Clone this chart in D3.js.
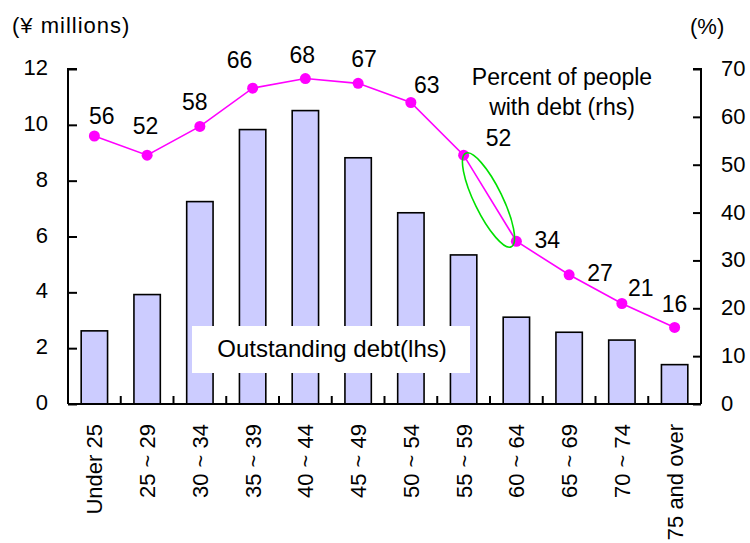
<!DOCTYPE html>
<html>
<head>
<meta charset="utf-8">
<script src="https://cdn.jsdelivr.net/npm/d3@7"></script>
<style>
  body { margin: 0; background: #fff; }
  text { font-family: "Liberation Sans", Arial, sans-serif; fill: #000; }
</style>
</head>
<body>
<script>
(function () {

    var ageGroups = ["Under 25", "25 ~ 29", "30 ~ 34", "35 ~ 39", "40 ~ 44", "45 ~ 49",
        "50 ~ 54", "55 ~ 59", "60 ~ 64", "65 ~ 69", "70 ~ 74", "75 and over"];
    //outstanding debt, yen millions (lhs)
    var debtValues = [2.62, 3.92, 7.25, 9.83, 10.51, 8.82, 6.85, 5.34, 3.11, 2.57, 2.29, 1.41];
    //percent of people with debt (rhs)
    var pctValues = [56, 52, 58, 66, 68, 67, 63, 52, 34, 27, 21, 16];
    var leftTicks = [0, 2, 4, 6, 8, 10, 12];
    var rightTicks = [0, 10, 20, 30, 40, 50, 60, 70];

    //hand placed label nudges (as in the original sheet)
    var labelDx = [7.5, -1.5, -5, -13, -3, 6, 16, 35, 31, 31, 19, 0];
    var labelDy = [-20, -29, -24, -28, -24, -24, -18, -17, -1, -2, -16, -23];

    var width = 750, height = 543;
    var left = 68, right = 701, top = 69, bottom = 404;

    var svg = d3.select("body").append("svg")
        .attr("width", width)
        .attr("height", height);

    var x = d3.scaleBand()
        .domain(ageGroups)
        .range([left, right])
        .paddingInner(0.5)
        .paddingOuter(0.25);

    var yL = d3.scaleLinear().domain([0, 12]).range([bottom, top]);
    var yR = d3.scaleLinear().domain([0, 70]).range([bottom, top]);

    //bars
    svg.selectAll(".bar")
        .data(debtValues)
        .enter()
        .append("rect")
        .attr("class", "bar")
        .attr("x", function (d, i) { return x(ageGroups[i]); })
        .attr("width", x.bandwidth())
        .attr("y", function (d) { return yL(d); })
        .attr("height", function (d) { return bottom - yL(d); })
        .style("fill", "#ccccff")
        .style("stroke", "#000")
        .style("stroke-width", 1.6);

    //legend box for bars
    svg.append("rect")
        .attr("x", 192).attr("y", 326)
        .attr("width", 278).attr("height", 47)
        .style("fill", "#fff");
    svg.append("text")
        .attr("x", 332).attr("y", 357)
        .attr("text-anchor", "middle")
        .style("font-size", "24px")
        .text("Outstanding debt(lhs)");

    //left axis
    var axisL = d3.axisRight(yL).tickValues(leftTicks).tickSize(9).tickFormat("");
    var gL = svg.append("g").attr("transform", "translate(" + left + ",0)").call(axisL);
    gL.select(".domain").attr("d", "M9," + top + "H0V" + bottom);
    svg.selectAll(".lLabel")
        .data(leftTicks)
        .enter()
        .append("text")
        .attr("x", 48)
        .attr("y", function (d) { return yL(d) + 6; })
        .attr("text-anchor", "end")
        .style("font-size", "22px")
        .text(function (d) { return d; });

    //right axis
    var axisR = d3.axisLeft(yR).tickValues(rightTicks).tickSize(8).tickFormat("");
    var gR = svg.append("g").attr("transform", "translate(" + right + ",0)").call(axisR);
    gR.select(".domain").attr("d", "M-8," + top + "H0V" + bottom);
    svg.selectAll(".rLabel")
        .data(rightTicks)
        .enter()
        .append("text")
        .attr("x", 721)
        .attr("y", function (d) { return yR(d) + 7; })
        .style("font-size", "22px")
        .text(function (d) { return d; });

    svg.selectAll(".domain, .tick line")
        .style("stroke", "#000")
        .style("stroke-width", 2);

    //x axis line with boundary ticks
    svg.append("line")
        .attr("x1", left).attr("x2", right)
        .attr("y1", bottom).attr("y2", bottom)
        .style("stroke", "#000").style("stroke-width", 2.2);
    svg.selectAll(".xTick")
        .data(ageGroups.slice(1))
        .enter()
        .append("line")
        .attr("x1", function (d) { return x(d) - x.bandwidth() / 2; })
        .attr("x2", function (d) { return x(d) - x.bandwidth() / 2; })
        .attr("y1", bottom).attr("y2", bottom - 8)
        .style("stroke", "#000").style("stroke-width", 2);

    //x labels, rotated
    svg.selectAll(".xLabel")
        .data(ageGroups)
        .enter()
        .append("text")
        .attr("transform", function (d) {
            return "translate(" + (x(d) + x.bandwidth() / 2 + 8) + ",424) rotate(-90)";
        })
        .attr("text-anchor", "end")
        .style("font-size", "22px")
        .text(function (d) { return d; });

    //line of percent with debt
    var cx = function (d, i) { return x(ageGroups[i]) + x.bandwidth() / 2; };
    var line = d3.line()
        .x(cx)
        .y(function (d) { return yR(d); });
    svg.append("path")
        .datum(pctValues)
        .attr("d", line)
        .style("fill", "none")
        .style("stroke", "#ff00ff")
        .style("stroke-width", 1.6);
    svg.selectAll(".dot")
        .data(pctValues)
        .enter()
        .append("circle")
        .attr("cx", cx)
        .attr("cy", function (d) { return yR(d); })
        .attr("r", 5.5)
        .style("fill", "#ff00ff");
    svg.selectAll(".pctLabel")
        .data(pctValues)
        .enter()
        .append("text")
        .attr("x", function (d, i) { return cx(d, i) + labelDx[i]; })
        .attr("y", function (d, i) { return yR(d) + labelDy[i] + 8; })
        .attr("text-anchor", "middle")
        .style("font-size", "23px")
        .text(function (d) { return d; });

    //highlight ellipse between 55-59 and 60-64
    svg.append("ellipse")
        .attr("transform", "translate(488.5,200) rotate(64)")
        .attr("rx", 52).attr("ry", 14)
        .style("fill", "none")
        .style("stroke", "#00e000")
        .style("stroke-width", 1.6);

    //annotations
    svg.append("text")
        .attr("x", 562).attr("y", 85)
        .attr("text-anchor", "middle")
        .style("font-size", "23px")
        .text("Percent of people");
    svg.append("text")
        .attr("x", 562).attr("y", 115)
        .attr("text-anchor", "middle")
        .style("font-size", "23px")
        .text("with debt (rhs)");

    svg.append("text")
        .attr("x", 12).attr("y", 33)
        .style("font-size", "22px")
        .style("letter-spacing", "1px")
        .text("(¥ millions)");
    svg.append("text")
        .attr("x", 690).attr("y", 34)
        .style("font-size", "22px")
        .text("(%)");
})();
</script>
</body>
</html>
